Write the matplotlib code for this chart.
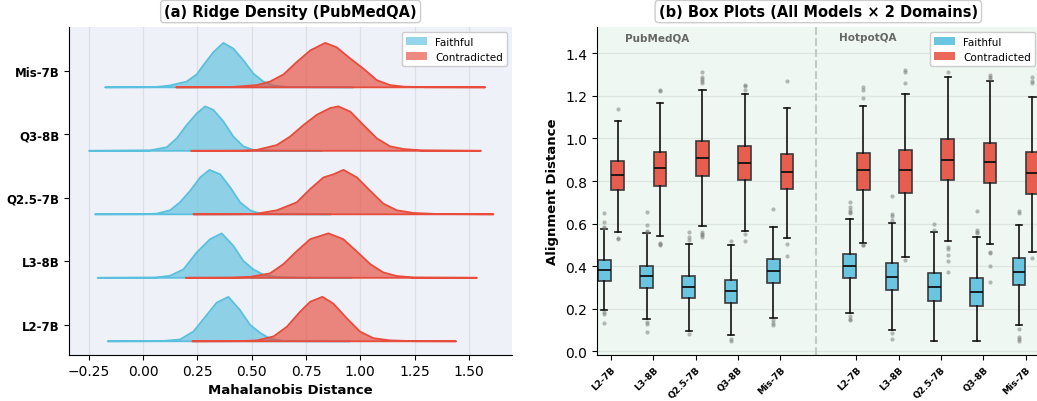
"""
Ridge densities and box plots of alignment distances
"""
import numpy as np
import matplotlib
matplotlib.use("Agg")
import matplotlib.pyplot as plt
from matplotlib.patches import Patch
from matplotlib.colors import to_rgba

# ---- data -----------------------------------------------------------------
models = ["L2-7B", "L3-8B", "Q2.5-7B", "Q3-8B", "Mis-7B"]
domains = ["PubMedQA", "HotpotQA"]

# ridge curves (PubMedQA), relative density (peak = 1), bottom -> top
faith_x = [
    [-0.166, 0.08, 0.167, 0.229, 0.29, 0.336, 0.39, 0.444, 0.49, 0.536, 0.582, 0.644, 0.75, 0.951],
    [-0.212, 0.05, 0.121, 0.183, 0.244, 0.306, 0.359, 0.413, 0.459, 0.505, 0.551, 0.613, 0.72, 0.959],
    [-0.224, 0.0, 0.06, 0.121, 0.167, 0.214, 0.26, 0.303, 0.352, 0.398, 0.444, 0.49, 0.536, 0.62, 0.863],
    [-0.252, 0.029, 0.106, 0.152, 0.198, 0.244, 0.283, 0.321, 0.367, 0.413, 0.459, 0.505, 0.60, 0.820],
    [-0.178, 0.05, 0.12, 0.198, 0.244, 0.275, 0.321, 0.367, 0.413, 0.459, 0.505, 0.551, 0.598, 0.66, 0.80, 0.966],
]
faith_d = [
    [0, 0.005, 0.04, 0.22, 0.59, 0.87, 1.0, 0.7, 0.37, 0.19, 0.06, 0.007, 0.002, 0],
    [0, 0.005, 0.045, 0.19, 0.57, 0.87, 1.0, 0.72, 0.38, 0.19, 0.07, 0.015, 0.003, 0],
    [0, 0.003, 0.015, 0.09, 0.27, 0.53, 0.83, 1.0, 0.9, 0.61, 0.27, 0.09, 0.015, 0.003, 0],
    [0, 0.01, 0.08, 0.28, 0.58, 0.84, 1.0, 0.92, 0.66, 0.32, 0.10, 0.02, 0.003, 0],
    [0, 0.005, 0.04, 0.13, 0.29, 0.5, 0.79, 1.0, 0.87, 0.61, 0.31, 0.13, 0.04, 0.01, 0.002, 0],
]
contra_x = [
    [0.224, 0.44, 0.521, 0.598, 0.66, 0.721, 0.767, 0.823, 0.873, 0.935, 0.996, 1.058, 1.135, 1.25, 1.439],
    [0.194, 0.40, 0.49, 0.582, 0.644, 0.705, 0.767, 0.851, 0.919, 0.98, 1.043, 1.104, 1.166, 1.243, 1.535],
    [0.229, 0.45, 0.521, 0.613, 0.705, 0.767, 0.828, 0.874, 0.92, 0.982, 1.043, 1.104, 1.166, 1.243, 1.35, 1.611],
    [0.218, 0.45, 0.521, 0.613, 0.674, 0.736, 0.797, 0.858, 0.897, 0.952, 1.012, 1.074, 1.135, 1.197, 1.28, 1.553],
    [0.149, 0.40, 0.521, 0.582, 0.644, 0.705, 0.767, 0.836, 0.889, 0.951, 1.012, 1.074, 1.135, 1.197, 1.30, 1.573],
]
contra_d = [
    [0, 0.004, 0.02, 0.11, 0.33, 0.67, 0.89, 1.0, 0.85, 0.52, 0.22, 0.07, 0.02, 0.003, 0],
    [0, 0.004, 0.02, 0.1, 0.31, 0.6, 0.87, 1.0, 0.87, 0.6, 0.31, 0.12, 0.04, 0.007, 0],
    [0, 0.003, 0.015, 0.09, 0.27, 0.57, 0.83, 0.9, 1.0, 0.83, 0.53, 0.24, 0.09, 0.03, 0.007, 0],
    [0, 0.003, 0.02, 0.13, 0.32, 0.58, 0.81, 0.96, 1.0, 0.88, 0.58, 0.28, 0.10, 0.04, 0.01, 0],
    [0, 0.005, 0.05, 0.13, 0.29, 0.57, 0.83, 1.0, 0.9, 0.65, 0.42, 0.16, 0.05, 0.015, 0.003, 0],
]

# box stats: (whislo, q1, med, q3, whishi), PubMedQA models then HotpotQA models
faith_box = [
    (0.195, 0.332, 0.382, 0.429, 0.573), (0.154, 0.298, 0.352, 0.401, 0.554),
    (0.095, 0.249, 0.302, 0.354, 0.503), (0.075, 0.226, 0.284, 0.337, 0.501),
    (0.157, 0.321, 0.377, 0.432, 0.582),
    (0.179, 0.345, 0.401, 0.457, 0.623), (0.101, 0.288, 0.351, 0.413, 0.601),
    (0.051, 0.237, 0.302, 0.368, 0.560), (0.051, 0.215, 0.279, 0.346, 0.537),
    (0.124, 0.310, 0.374, 0.438, 0.595),
]
faith_fliers = [
    [0.65, 0.61, 0.585, 0.58, 0.185, 0.175, 0.135],
    [0.655, 0.595, 0.565, 0.56, 0.14, 0.13, 0.09],
    [0.56, 0.535, 0.525, 0.08],
    [0.52, 0.06, 0.05],
    [0.67, 0.148, 0.133, 0.123],
    [0.70, 0.68, 0.665, 0.655, 0.65, 0.165, 0.15, 0.145],
    [0.73, 0.645, 0.635, 0.615, 0.085, 0.06],
    [0.60, 0.57],
    [0.66, 0.57, 0.56, 0.555],
    [0.66, 0.65, 0.105, 0.067, 0.058, 0.05],
]
contra_box = [
    (0.560, 0.759, 0.828, 0.893, 1.084), (0.540, 0.779, 0.859, 0.937, 1.167),
    (0.588, 0.824, 0.910, 0.989, 1.229), (0.565, 0.803, 0.887, 0.967, 1.209),
    (0.534, 0.764, 0.843, 0.925, 1.142),
    (0.511, 0.760, 0.851, 0.931, 1.151), (0.443, 0.745, 0.851, 0.945, 1.211),
    (0.518, 0.803, 0.901, 0.998, 1.289), (0.506, 0.789, 0.889, 0.981, 1.271),
    (0.468, 0.737, 0.840, 0.935, 1.197),
]
contra_fliers = [
    [1.139, 0.534, 0.526],
    [1.23, 1.225, 0.51, 0.503, 0.50],
    [1.31, 1.29, 1.28, 1.27, 1.26, 0.56, 0.55, 0.545, 0.535],
    [1.25, 1.245, 1.228, 0.55, 0.52],
    [1.27, 0.505, 0.45],
    [1.24, 1.23, 1.19, 0.50, 0.498],
    [1.32, 1.31, 1.26, 0.43],
    [1.31, 0.49, 0.48, 0.455, 0.425, 0.375],
    [1.30, 1.29, 1.28, 0.465, 0.46, 0.40, 0.325],
    [1.29, 1.27, 1.26, 0.44],
]

# ---- style ----------------------------------------------------------------
C_FAITH = "#5BC0DE"
C_CONTRA = "#E74C3C"
plt.rcParams["font.family"] = ["DejaVu Sans"]

fig = plt.figure(figsize=(10.37, 4.02), dpi=100)
ax1 = fig.add_axes([0.0665, 0.115, 0.4275, 0.815])
ax2 = fig.add_axes([0.5754, 0.115, 0.4275, 0.815])

title_box = dict(boxstyle="round,pad=0.25", facecolor="white",
                 edgecolor="#cccccc", linewidth=1)

# ---- (a) ridge density ----------------------------------------------------
ax1.set_facecolor("#EEF1F8")
ridge_h = 0.7
for i in range(len(models)):
    for xs, ds, c in ((faith_x[i], faith_d[i], C_FAITH),
                      (contra_x[i], contra_d[i], C_CONTRA)):
        xs = np.array(xs)
        ys = i + ridge_h * np.array(ds)
        ax1.fill_between(xs, i, ys, facecolor=to_rgba(c, 0.65),
                         edgecolor=c, linewidth=1.3, zorder=2)

ax1.set_yticks([i + 0.25 for i in range(len(models))])
ax1.set_yticklabels(models, fontsize=8.5, fontweight="bold")
ax1.set_xlim(-0.342, 1.70)
ax1.set_ylim(-0.22, 4.94)
ax1.set_xticks(np.arange(-0.25, 1.51, 0.25))
ax1.tick_params(axis="x", labelsize=10)
ax1.grid(axis="x", color="#dcdfe6", linewidth=0.9, zorder=0)
ax1.set_axisbelow(True)
ax1.set_xlabel("Mahalanobis Distance", fontsize=9.5, fontweight="bold",
               labelpad=3)
ax1.set_title("(a) Ridge Density (PubMedQA)", fontsize=10.5,
              fontweight="bold", bbox=title_box, pad=8)
for s in ("top", "right"):
    ax1.spines[s].set_visible(False)
ax1.legend(handles=[Patch(facecolor=to_rgba(C_FAITH, 0.65), label="Faithful"),
                    Patch(facecolor=to_rgba(C_CONTRA, 0.65), label="Contradicted")],
           loc="upper right", fontsize=7.5, framealpha=1, fancybox=True)

# ---- (b) box plots --------------------------------------------------------
ax2.set_facecolor("#EEF7F2")
offset = 5.8
centers = [j for j in range(len(models))] + [offset + j for j in range(len(models))]


def make_stats(boxes, fliers):
    out = []
    for (lo, q1, med, q3, hi), fl in zip(boxes, fliers):
        out.append(dict(whislo=lo, q1=q1, med=med, q3=q3, whishi=hi,
                        fliers=np.array(fl)))
    return out


for boxes, fliers, c, d in ((faith_box, faith_fliers, C_FAITH, -0.16),
                            (contra_box, contra_fliers, C_CONTRA, 0.16)):
    ax2.bxp(make_stats(boxes, fliers), positions=[p + d for p in centers],
            widths=0.3, patch_artist=True, manage_ticks=False,
            boxprops=dict(facecolor=to_rgba(c, 0.9), edgecolor="#3a3a3a",
                          linewidth=1.2),
            medianprops=dict(color="#111111", linewidth=1.3),
            whiskerprops=dict(color="#111111", linewidth=1.2),
            capprops=dict(color="#111111", linewidth=1.2),
            flierprops=dict(marker="o", markersize=3, markerfacecolor="#777777",
                            markeredgecolor="none", alpha=0.5))

ax2.axvline(4.84, color="#c4c9c6", linestyle="--", linewidth=1.5, zorder=1)
for name, xc in zip(domains, [1.08, 6.08]):
    ax2.text(xc, 1.476, name, ha="center", va="center", fontsize=7.5,
             fontweight="bold", color="#666666")

ax2.set_xticks(centers)
ax2.set_xticklabels(models * 2, rotation=45, ha="right", fontsize=6.5,
                    fontweight="bold", rotation_mode="anchor")
ax2.set_xlim(-0.338, 10.14)
ax2.set_ylim(-0.016, 1.523)
ax2.set_yticks(np.arange(0, 1.41, 0.2))
ax2.tick_params(axis="y", labelsize=10)
ax2.grid(axis="y", color="#dde6e0", linewidth=0.9)
ax2.set_axisbelow(True)
ax2.set_ylabel("Alignment Distance", fontsize=9.5, fontweight="bold")
ax2.set_title("(b) Box Plots (All Models \u00d7 2 Domains)", fontsize=10.5,
              fontweight="bold", bbox=title_box, pad=8)
for s in ("top", "right"):
    ax2.spines[s].set_visible(False)
ax2.legend(handles=[Patch(facecolor=to_rgba(C_FAITH, 0.9), label="Faithful"),
                    Patch(facecolor=to_rgba(C_CONTRA, 0.85), label="Contradicted")],
           loc="upper right", fontsize=7.5, framealpha=1, fancybox=True)

fig.savefig("out.png", dpi=100)
